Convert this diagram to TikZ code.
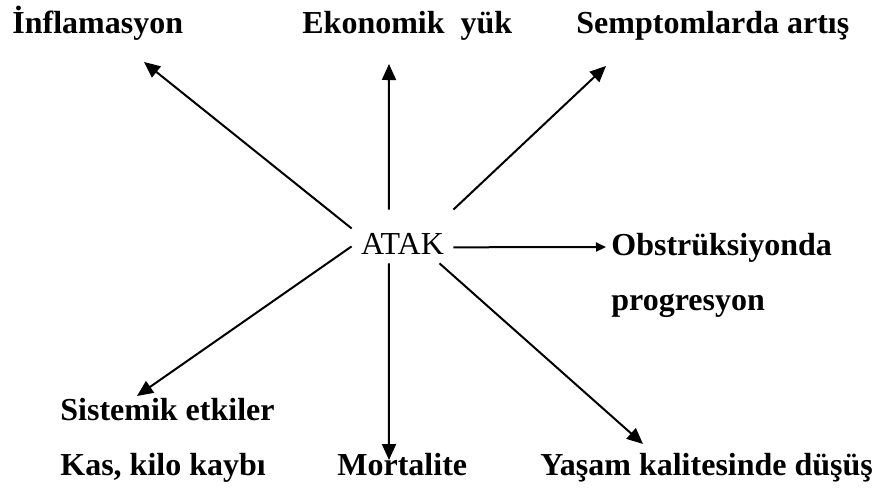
\documentclass[tikz,border=0pt]{standalone}
\usepackage{fontspec}
\setmainfont{Liberation Serif}
\usetikzlibrary{arrows.meta}

\begin{document}
\begin{tikzpicture}[
		x=0.5pt, y=-0.5pt,
		lbl/.style={font=\fontsize{16}{19}\selectfont\bfseries, inner sep=0pt, anchor=base west},
		hub/.style={font=\fontsize{16}{19}\selectfont, inner sep=0pt, text height=17.5pt, text depth=0pt,
			minimum width=50.5pt, minimum height=26.5pt},
		arr/.style={line width=1pt, -{Triangle[length=8pt, width=7pt]}},
		arrsmall/.style={line width=1pt, -{Triangle[length=5pt, width=4.5pt]}},
	]
	\useasboundingbox (0,0) rectangle (880,488);

	% centre
	\node[hub] (atak) at (402.5, 236.5) {ATAK};

	% top row
	\node[lbl] (infl) at (12, 33)  {İnflamasyon};
	\node[lbl] (eko)  at (302, 33) {Ekonomik\ \ yük};
	\node[lbl] (sem)  at (576, 33) {Semptomlarda artış};

	% right side
	\node[lbl] (obs)  at (611, 255) {Obstrüksiyonda};
	\node[lbl] (prog) at (611, 310) {progresyon};

	% bottom row
	\node[lbl] (sis)  at (60, 420)  {Sistemik etkiler};
	\node[lbl] (kas)  at (60, 475)  {Kas, kilo kaybı};
	\node[lbl] (mort) at (337, 475) {Mortalite};
	\node[lbl] (yas)  at (540, 475) {Yaşam kalitesinde düşüş};

	% arrow tips
	\coordinate (tInfl) at (144, 62);
	\coordinate (tEko)  at (389, 64);
	\coordinate (tSem)  at (606, 66);
	\coordinate (tObs)  at (606, 247);
	\coordinate (tYas)  at (643, 444);
	\coordinate (tMort) at (389, 460);
	\coordinate (tSis)  at (137, 396);

	% ATAK to its effects
	\draw[arr] (atak.171.6) -- (tInfl);
	\draw[arr] (atak.117)   -- (tEko);
	\draw[arr] (atak.north east) -- (tSem);
	\draw[arrsmall] (atak.348.3) -- (tObs);
	\draw[arr] (atak.324.3) -- (tYas);
	\draw[arr] (atak.243)   -- (tMort);
	\draw[arr] (atak.191.7) -- (tSis);
\end{tikzpicture}
\end{document}
